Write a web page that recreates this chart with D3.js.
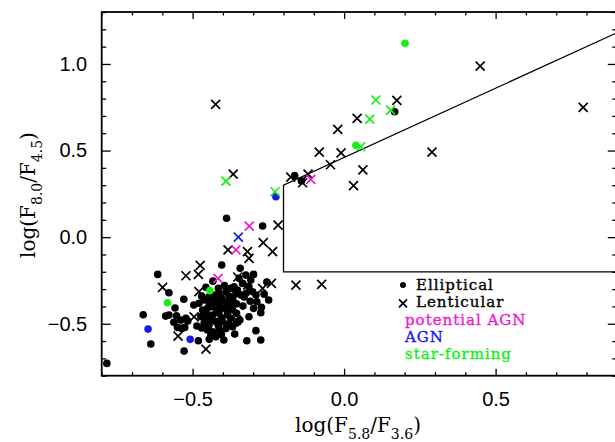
<!DOCTYPE html>
<html>
<head>
<meta charset="utf-8">
<script src="https://cdn.jsdelivr.net/npm/d3@7"></script>
<style>
  body { margin: 0; background: #fff; }
  svg text { font-family: "DejaVu Serif", serif; }
</style>
</head>
<body>
<script>
// DATA (log flux ratios)

// black dots
const ellipticals = [
  [-0.783,-0.729],[-0.663,-0.448],[-0.638,-0.617],[-0.615,-0.215],[-0.578,-0.321],[-0.558,-0.409],
  [-0.589,-0.456],[-0.578,-0.450],[-0.553,-0.454],[-0.562,-0.492],[-0.529,-0.359],[-0.522,-0.469],
  [-0.536,-0.527],[-0.526,-0.521],[-0.528,-0.658],[-0.481,-0.598],[-0.404,-0.161],[-0.388,0.109],
  [-0.269,0.064],[-0.343,-0.180],[-0.539,-0.479],[-0.516,-0.484],[-0.550,-0.521],[-0.163,0.355],
  [-0.141,0.324],[0.167,0.724],[-0.288,-0.373],[-0.299,-0.411],[-0.275,-0.436],[-0.368,-0.421],
  [-0.314,-0.460],[-0.291,-0.540],[-0.321,-0.598],[-0.275,-0.594],[-0.264,-0.329],[-0.273,-0.405],
  [-0.479,-0.382],[-0.462,-0.363],[-0.446,-0.344],[-0.429,-0.334],[-0.413,-0.324],[-0.390,-0.315],
  [-0.374,-0.296],[-0.467,-0.421],[-0.451,-0.411],[-0.434,-0.402],[-0.413,-0.382],[-0.390,-0.373],
  [-0.368,-0.363],[-0.473,-0.460],[-0.456,-0.460],[-0.434,-0.450],[-0.413,-0.440],[-0.385,-0.431],
  [-0.462,-0.498],[-0.446,-0.508],[-0.423,-0.488],[-0.401,-0.488],[-0.374,-0.469],[-0.451,-0.536],
  [-0.434,-0.546],[-0.413,-0.536],[-0.390,-0.527],[-0.368,-0.517],[-0.423,-0.575],[-0.440,-0.569],
  [-0.324,-0.219],[-0.347,-0.238],[-0.308,-0.248],[-0.299,-0.215],[-0.335,-0.267],[-0.314,-0.286],
  [-0.363,-0.286],[-0.357,-0.324],[-0.324,-0.324],[-0.341,-0.334],[-0.302,-0.315],[-0.291,-0.334],
  [-0.368,-0.353],[-0.352,-0.305],[-0.456,-0.289],[-0.433,-0.254],[-0.496,-0.392],[-0.486,-0.513],
  [-0.397,-0.594],[-0.361,-0.559],[-0.334,-0.398],[-0.344,-0.479],[-0.255,-0.259],[-0.249,-0.363],
  [-0.384,-0.398],[-0.470,-0.340],[-0.445,-0.380],[-0.425,-0.365],[-0.405,-0.350],[-0.380,-0.340],
  [-0.455,-0.440],[-0.420,-0.420],[-0.400,-0.410],[-0.375,-0.395],[-0.440,-0.480],[-0.405,-0.465],
  [-0.385,-0.450],[-0.355,-0.440],[-0.415,-0.510],[-0.380,-0.500],[-0.355,-0.495],[-0.470,-0.525],
  [-0.445,-0.590],[-0.405,-0.560],[-0.330,-0.345],[-0.310,-0.370],[-0.355,-0.385],[-0.395,-0.280],
  [-0.415,-0.295]
];

// black crosses
const lenticulars = [
  [-0.599,-0.290],[-0.522,-0.223],[-0.481,-0.215],[-0.475,-0.163],[-0.479,-0.315],[-0.495,-0.460],
  [-0.548,-0.571],[-0.456,-0.646],[-0.383,-0.074],[-0.319,-0.084],[-0.314,-0.122],[-0.267,-0.032],
  [-0.236,-0.084],[-0.218,0.070],[-0.240,-0.267],[-0.269,-0.296],[-0.355,-0.479],[-0.159,-0.277],
  [-0.074,-0.273],[-0.424,0.767],[-0.366,0.364],[0.449,0.988],[0.789,0.749],[0.290,0.491],
  [0.174,0.790],[0.043,0.686],[-0.021,0.622],[-0.082,0.491],[-0.010,0.487],[-0.045,0.418],
  [0.062,0.389],[0.031,0.297],[-0.176,0.347],[-0.119,0.364],[-0.137,0.314],[-0.351,-0.230],
  [-0.318,-0.276],[-0.367,-0.363]
];

// coloured subsamples
const potentialAgnS0 = [[-0.416,-0.238],[-0.357,-0.074],[-0.313,0.064],[-0.110,0.334]];
const agnE = [[-0.647,-0.531],[-0.508,-0.590],[-0.225,0.233]];
const agnS0 = [[-0.349,0.000]];
const starFormingE = [[-0.583,-0.379],[-0.443,-0.309],[0.201,1.119],[0.039,0.530]];
const starFormingS0 = [[-0.390,0.324],[-0.228,0.262],[0.105,0.792],[0.154,0.734],[0.085,0.682],[0.055,0.522]];

// AGN wedge: x > -0.2, y > -0.2, y < 0.8 x + 0.46
const wedge = {xMin: -0.2, yMin: -0.2, slope: 0.8, intercept: 0.46};

// Axis ticks
const xMajorTicks = [-0.5, 0.0, 0.5];
const yMajorTicks = [-0.5, 0.0, 0.5, 1.0];

const legendItems = [
  {label: 'Elliptical', color: 'black', symbol: 'dot'},
  {label: 'Lenticular', color: 'black', symbol: 'cross'},
  {label: 'potential AGN', color: '#f01ccc', symbol: null},
  {label: 'AGN', color: '#1a1aee', symbol: null},
  {label: 'star-forming', color: '#16ee16', symbol: null}
];

// LAYOUT
const width = 615;
const height = 442;
const plot = {left: 101.7, right: 616.8, top: 12, bottom: 375.7};

const svg = d3.select('body')
  .append('svg')
  .attr('width', width)
  .attr('height', height);

// Scales
const xScale = d3.scaleLinear().domain([-0.8, 0.9]).range([plot.left, plot.right]);
const yScale = d3.scaleLinear().domain([-0.8, 1.3]).range([plot.bottom, plot.top]);

const fmt = d => d3.format('.1f')(d).replace('-', '\u2212');
const minorX = d3.range(-8, 10).map(d => d / 10).filter(d => !xMajorTicks.some(m => Math.abs(m - d) < 1e-6));
const minorY = d3.range(-8, 14).map(d => d / 10).filter(d => !yMajorTicks.some(m => Math.abs(m - d) < 1e-6));

// Axes (ticks pointing inward on all four sides)
function drawAxis(axisFn, scale, ticks, size, translate, withLabels, pad) {
  const g = svg.append('g')
    .attr('transform', translate)
    .call(axisFn(scale).tickValues(ticks).tickSize(-size).tickPadding(pad || 3)
      .tickFormat(withLabels ? fmt : ''));
  g.select('.domain').remove();
  g.selectAll('line').attr('stroke', 'black').attr('stroke-width', 1.3);
  g.selectAll('text').attr('fill', 'black')
    .style('font-family', '"Liberation Sans", sans-serif')
    .style('font-size', '20px');
  return g;
}

drawAxis(d3.axisBottom, xScale, xMajorTicks, 7, `translate(0,${plot.bottom})`, true, 16);
drawAxis(d3.axisBottom, xScale, minorX, 3.5, `translate(0,${plot.bottom})`, false);
drawAxis(d3.axisTop, xScale, xMajorTicks, 7, `translate(0,${plot.top})`, false);
drawAxis(d3.axisTop, xScale, minorX, 3.5, `translate(0,${plot.top})`, false);
drawAxis(d3.axisLeft, yScale, yMajorTicks, 9, `translate(${plot.left},0)`, true, 14.5);
drawAxis(d3.axisLeft, yScale, minorY, 4.5, `translate(${plot.left},0)`, false);
drawAxis(d3.axisRight, yScale, yMajorTicks, 9, `translate(${plot.right},0)`, false);
drawAxis(d3.axisRight, yScale, minorY, 4.5, `translate(${plot.right},0)`, false);

// Frame
svg.append('rect')
  .attr('x', plot.left).attr('y', plot.top)
  .attr('width', plot.right - plot.left).attr('height', plot.bottom - plot.top)
  .attr('fill', 'none').attr('stroke', 'black').attr('stroke-width', 1.8);

// Axis titles with subscripts
const xTitle = svg.append('text')
  .attr('x', 358).attr('y', 432)
  .attr('text-anchor', 'middle')
  .style('font-size', '20px');
xTitle.append('tspan').text('log(F');
xTitle.append('tspan').attr('dy', 7).style('font-size', '14px').text('5.8');
xTitle.append('tspan').attr('dy', -7).text('/F');
xTitle.append('tspan').attr('dy', 7).style('font-size', '14px').text('3.6');
xTitle.append('tspan').attr('dy', -7).text(')');

const yTitle = svg.append('text')
  .attr('transform', 'translate(35,195) rotate(-90)')
  .attr('text-anchor', 'middle')
  .style('font-size', '20px');
yTitle.append('tspan').text('log(F');
yTitle.append('tspan').attr('dy', 7).style('font-size', '14px').text('8.0');
yTitle.append('tspan').attr('dy', -7).text('/F');
yTitle.append('tspan').attr('dy', 7).style('font-size', '14px').text('4.5');
yTitle.append('tspan').attr('dy', -7).text(')');

// Plot area (clipped)
svg.append('clipPath').attr('id', 'clip')
  .append('rect')
  .attr('x', plot.left).attr('y', plot.top)
  .attr('width', plot.right - plot.left).attr('height', plot.bottom - plot.top);

const area = svg.append('g').attr('clip-path', 'url(#clip)');

// Wedge lines
const xEnd = xScale.domain()[1];
const wedgeLine = d3.line().x(d => xScale(d[0])).y(d => yScale(d[1]));
area.append('path')
  .attr('d', wedgeLine([
    [xEnd, wedge.yMin],
    [wedge.xMin, wedge.yMin],
    [wedge.xMin, wedge.slope * wedge.xMin + wedge.intercept],
    [xEnd, wedge.slope * xEnd + wedge.intercept]
  ]))
  .attr('fill', 'none').attr('stroke', 'black').attr('stroke-width', 1.3);

// Markers
const dotR = 3.8;
const crossR = 4.5;

function drawDots(data, color) {
  area.append('g').selectAll('circle')
    .data(data)
    .join('circle')
    .attr('cx', d => xScale(d[0]))
    .attr('cy', d => yScale(d[1]))
    .attr('r', dotR)
    .attr('fill', color);
}

function drawCrosses(data, color) {
  area.append('g').selectAll('path')
    .data(data)
    .join('path')
    .attr('d', d => {
      const x = xScale(d[0]), y = yScale(d[1]);
      return `M${x - crossR},${y - crossR}L${x + crossR},${y + crossR}M${x - crossR},${y + crossR}L${x + crossR},${y - crossR}`;
    })
    .attr('stroke', color).attr('stroke-width', 1.7).attr('fill', 'none');
}

drawDots(ellipticals, 'black');
drawCrosses(lenticulars, 'black');
drawCrosses(potentialAgnS0, legendItems[2].color);
drawDots(agnE, legendItems[3].color);
drawCrosses(agnS0, legendItems[3].color);
drawDots(starFormingE, legendItems[4].color);
drawCrosses(starFormingS0, legendItems[4].color);

// Legend
const legend = svg.append('g').attr('transform', 'translate(403,290)');
const rowH = 17.3;
legendItems.forEach((item, i) => {
  const y = i * rowH;
  if (item.symbol === 'dot') {
    legend.append('circle').attr('cx', 0).attr('cy', y - 5).attr('r', 3).attr('fill', item.color);
  } else if (item.symbol === 'cross') {
    legend.append('path')
      .attr('d', `M-4,${y - 8}L4,${y}M-4,${y}L4,${y - 8}`)
      .attr('stroke', item.color).attr('stroke-width', 1.7);
  }
  legend.append('text')
    .attr('x', item.symbol ? 13 : 2)
    .attr('y', y)
    .attr('fill', item.color)
    .attr('stroke', item.color)
    .attr('stroke-width', 0.35)
    .style('font-size', '15px')
    .style('letter-spacing', '1px')
    .text(item.label);
});
</script>
</body>
</html>
